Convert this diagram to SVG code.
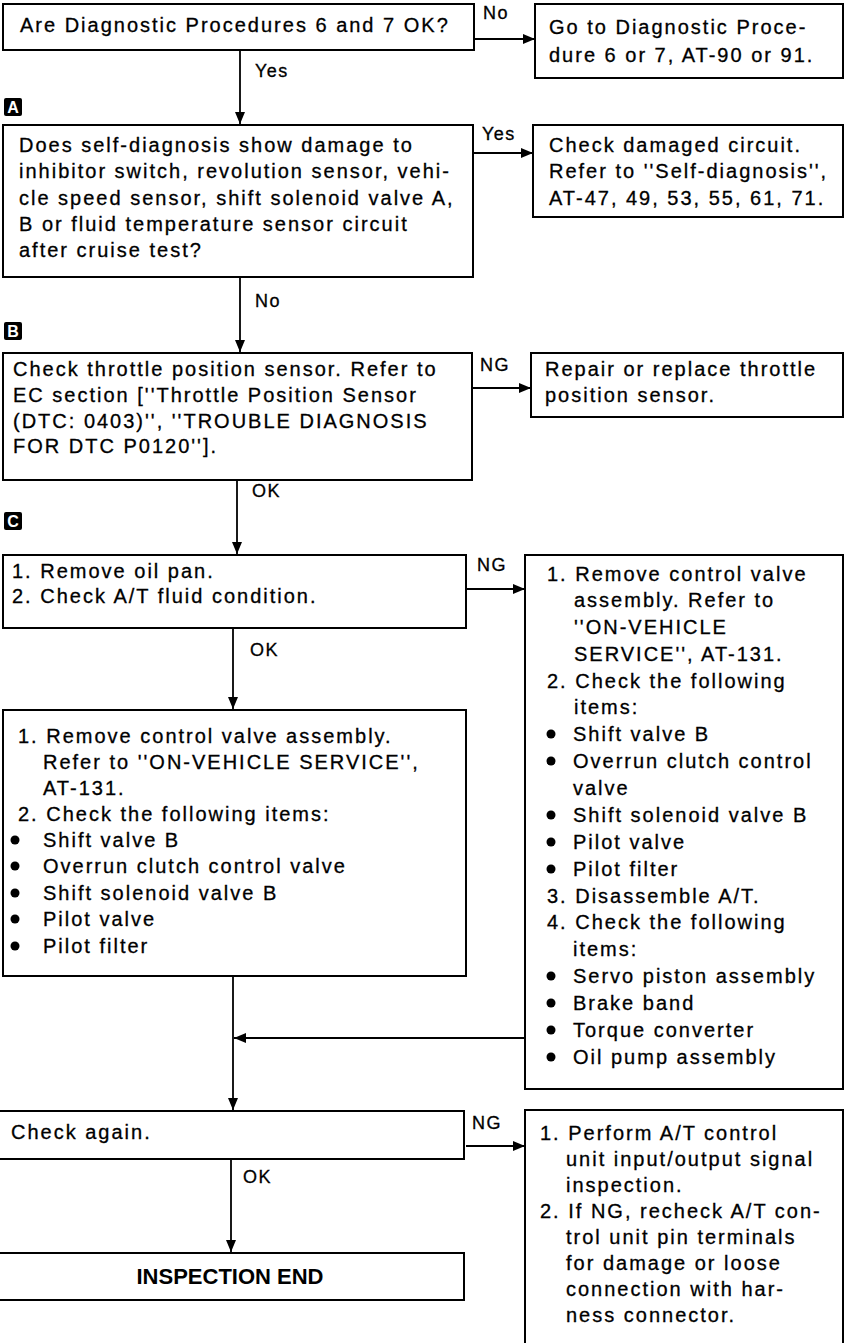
<svg xmlns="http://www.w3.org/2000/svg" width="846" height="1343" viewBox="0 0 846 1343">
<style>
.box{fill:#fff;stroke:#000;stroke-width:2}
.t{font-family:"Liberation Sans",Arial,sans-serif;font-size:20px;letter-spacing:2px;fill:#000;stroke:#000;stroke-width:0.3}
.l{font-family:"Liberation Sans",Arial,sans-serif;font-size:18px;letter-spacing:1.5px;fill:#000;stroke:#000;stroke-width:0.3}
.b{font-family:"Liberation Sans",Arial,sans-serif;font-size:22px;font-weight:bold;fill:#000}
.bd{fill:#000}
.bt{font-family:"Liberation Sans",Arial,sans-serif;font-size:16px;font-weight:bold;fill:#fff;text-anchor:middle}
.c{fill:none;stroke:#000;stroke-width:1.8}
</style>
<defs>
<marker id="ah" viewBox="0 0 12 10" refX="12" refY="5" markerWidth="12" markerHeight="10" markerUnits="userSpaceOnUse" orient="auto">
<path d="M0,0 L12,5 L0,10 Z" fill="#000"/>
</marker>
</defs>
<rect width="846" height="1343" fill="#fff"/>
<g id="connectors">
<line class="c" x1="474" y1="39" x2="535" y2="39" marker-end="url(#ah)"/>
<line class="c" x1="240" y1="50" x2="240" y2="124" marker-end="url(#ah)"/>
<line class="c" x1="473" y1="153" x2="533" y2="153" marker-end="url(#ah)"/>
<line class="c" x1="240" y1="278" x2="240" y2="352" marker-end="url(#ah)"/>
<line class="c" x1="472" y1="388" x2="531" y2="388" marker-end="url(#ah)"/>
<line class="c" x1="237" y1="480" x2="237" y2="554" marker-end="url(#ah)"/>
<line class="c" x1="466" y1="589" x2="525" y2="589" marker-end="url(#ah)"/>
<line class="c" x1="233" y1="628" x2="233" y2="709" marker-end="url(#ah)"/>
<line class="c" x1="233" y1="976" x2="233" y2="1110" marker-end="url(#ah)"/>
<line class="c" x1="525" y1="1038" x2="234" y2="1038" marker-end="url(#ah)"/>
<line class="c" x1="466" y1="1146" x2="525" y2="1146" marker-end="url(#ah)"/>
<line class="c" x1="231" y1="1160" x2="231" y2="1252" marker-end="url(#ah)"/>
<text class="l" x="483" y="19">No</text>
<text class="l" x="255" y="77">Yes</text>
<text class="l" x="482" y="140">Yes</text>
<text class="l" x="255" y="307">No</text>
<text class="l" x="480" y="371">NG</text>
<text class="l" x="252" y="497">OK</text>
<text class="l" x="477" y="571">NG</text>
<text class="l" x="250" y="656">OK</text>
<text class="l" x="472" y="1129">NG</text>
<text class="l" x="243" y="1183">OK</text>
</g>
<g id="badgeA"><rect class="bd" x="4" y="98" width="18" height="18" rx="2"/><text class="bt" x="13" y="113">A</text></g>
<g id="badgeB"><rect class="bd" x="4" y="322" width="18" height="18" rx="2"/><text class="bt" x="13" y="337">B</text></g>
<g id="badgeC"><rect class="bd" x="4" y="512" width="18" height="18" rx="2"/><text class="bt" x="13" y="527">C</text></g>
<g id="n1">
<rect class="box" x="3" y="4" width="471" height="46"/>
<text class="t" x="20" y="32">Are Diagnostic Procedures 6 and 7 OK?</text>
</g>
<g id="n1no">
<rect class="box" x="535" y="4" width="308" height="74"/>
<text class="t" x="549" y="34">Go to Diagnostic Proce-</text>
<text class="t" x="549" y="62">dure 6 or 7, AT-90 or 91.</text>
</g>
<g id="nA">
<rect class="box" x="3" y="125" width="470" height="152"/>
<text class="t" x="19" y="152">Does self-diagnosis show damage to</text>
<text class="t" x="19" y="178">inhibitor switch, revolution sensor, vehi-</text>
<text class="t" x="19" y="205">cle speed sensor, shift solenoid valve A,</text>
<text class="t" x="19" y="231">B or fluid temperature sensor circuit</text>
<text class="t" x="19" y="257">after cruise test?</text>
</g>
<g id="nAyes">
<rect class="box" x="533" y="125" width="310" height="92"/>
<text class="t" x="549" y="152">Check damaged circuit.</text>
<text class="t" x="549" y="178">Refer to ''Self-diagnosis'',</text>
<text class="t" x="549" y="205">AT-47, 49, 53, 55, 61, 71.</text>
</g>
<g id="nB">
<rect class="box" x="3" y="353" width="469" height="127"/>
<text class="t" x="13" y="376">Check throttle position sensor. Refer to</text>
<text class="t" x="13" y="402">EC section [''Throttle Position Sensor</text>
<text class="t" x="13" y="428">(DTC: 0403)'', ''TROUBLE DIAGNOSIS</text>
<text class="t" x="13" y="453">FOR DTC P0120''].</text>
</g>
<g id="nBng">
<rect class="box" x="531" y="353" width="312" height="64"/>
<text class="t" x="545" y="376">Repair or replace throttle</text>
<text class="t" x="545" y="402">position sensor.</text>
</g>
<g id="nC">
<rect class="box" x="3" y="555" width="463" height="73"/>
<text class="t" x="12" y="578">1. Remove oil pan.</text>
<text class="t" x="12" y="603">2. Check A/T fluid condition.</text>
</g>
<g id="nCng">
<rect class="box" x="525" y="555" width="318" height="534"/>
<text class="t" x="547" y="581">1. Remove control valve</text>
<text class="t" x="574" y="607">assembly. Refer to</text>
<text class="t" x="574" y="634">''ON-VEHICLE</text>
<text class="t" x="574" y="661">SERVICE'', AT-131.</text>
<text class="t" x="547" y="688">2. Check the following</text>
<text class="t" x="574" y="714">items:</text>
<circle cx="551" cy="734" r="4.5"/><text class="t" x="573" y="741">Shift valve B</text>
<circle cx="551" cy="761" r="4.5"/><text class="t" x="573" y="768">Overrun clutch control</text>
<text class="t" x="573" y="795">valve</text>
<circle cx="551" cy="815" r="4.5"/><text class="t" x="573" y="822">Shift solenoid valve B</text>
<circle cx="551" cy="842" r="4.5"/><text class="t" x="573" y="849">Pilot valve</text>
<circle cx="551" cy="869" r="4.5"/><text class="t" x="573" y="876">Pilot filter</text>
<text class="t" x="547" y="903">3. Disassemble A/T.</text>
<text class="t" x="547" y="929">4. Check the following</text>
<text class="t" x="573" y="956">items:</text>
<circle cx="551" cy="976" r="4.5"/><text class="t" x="573" y="983">Servo piston assembly</text>
<circle cx="551" cy="1003" r="4.5"/><text class="t" x="573" y="1010">Brake band</text>
<circle cx="551" cy="1030" r="4.5"/><text class="t" x="573" y="1037">Torque converter</text>
<circle cx="551" cy="1057" r="4.5"/><text class="t" x="573" y="1064">Oil pump assembly</text>
</g>
<g id="nD">
<rect class="box" x="3" y="710" width="463" height="266"/>
<text class="t" x="18" y="743">1. Remove control valve assembly.</text>
<text class="t" x="43" y="769">Refer to ''ON-VEHICLE SERVICE'',</text>
<text class="t" x="43" y="795">AT-131.</text>
<text class="t" x="18" y="821">2. Check the following items:</text>
<circle cx="15" cy="840" r="4.5"/><text class="t" x="43" y="847">Shift valve B</text>
<circle cx="15" cy="866" r="4.5"/><text class="t" x="43" y="873">Overrun clutch control valve</text>
<circle cx="15" cy="893" r="4.5"/><text class="t" x="43" y="900">Shift solenoid valve B</text>
<circle cx="15" cy="919" r="4.5"/><text class="t" x="43" y="926">Pilot valve</text>
<circle cx="15" cy="946" r="4.5"/><text class="t" x="43" y="953">Pilot filter</text>
</g>
<g id="nE">
<rect class="box" x="-2" y="1111" width="466" height="48"/>
<text class="t" x="11" y="1139">Check again.</text>
</g>
<g id="nEng">
<rect class="box" x="525" y="1110" width="318" height="250"/>
<text class="t" x="540" y="1140">1. Perform A/T control</text>
<text class="t" x="566" y="1166">unit input/output signal</text>
<text class="t" x="566" y="1192">inspection.</text>
<text class="t" x="540" y="1218">2. If NG, recheck A/T con-</text>
<text class="t" x="566" y="1244">trol unit pin terminals</text>
<text class="t" x="566" y="1270">for damage or loose</text>
<text class="t" x="566" y="1296">connection with har-</text>
<text class="t" x="566" y="1322">ness connector.</text>
</g>
<g id="nEnd">
<rect class="box" x="-2" y="1253" width="466" height="47"/>
<text class="b" x="230" y="1284" text-anchor="middle">INSPECTION END</text>
</g>
</svg>
